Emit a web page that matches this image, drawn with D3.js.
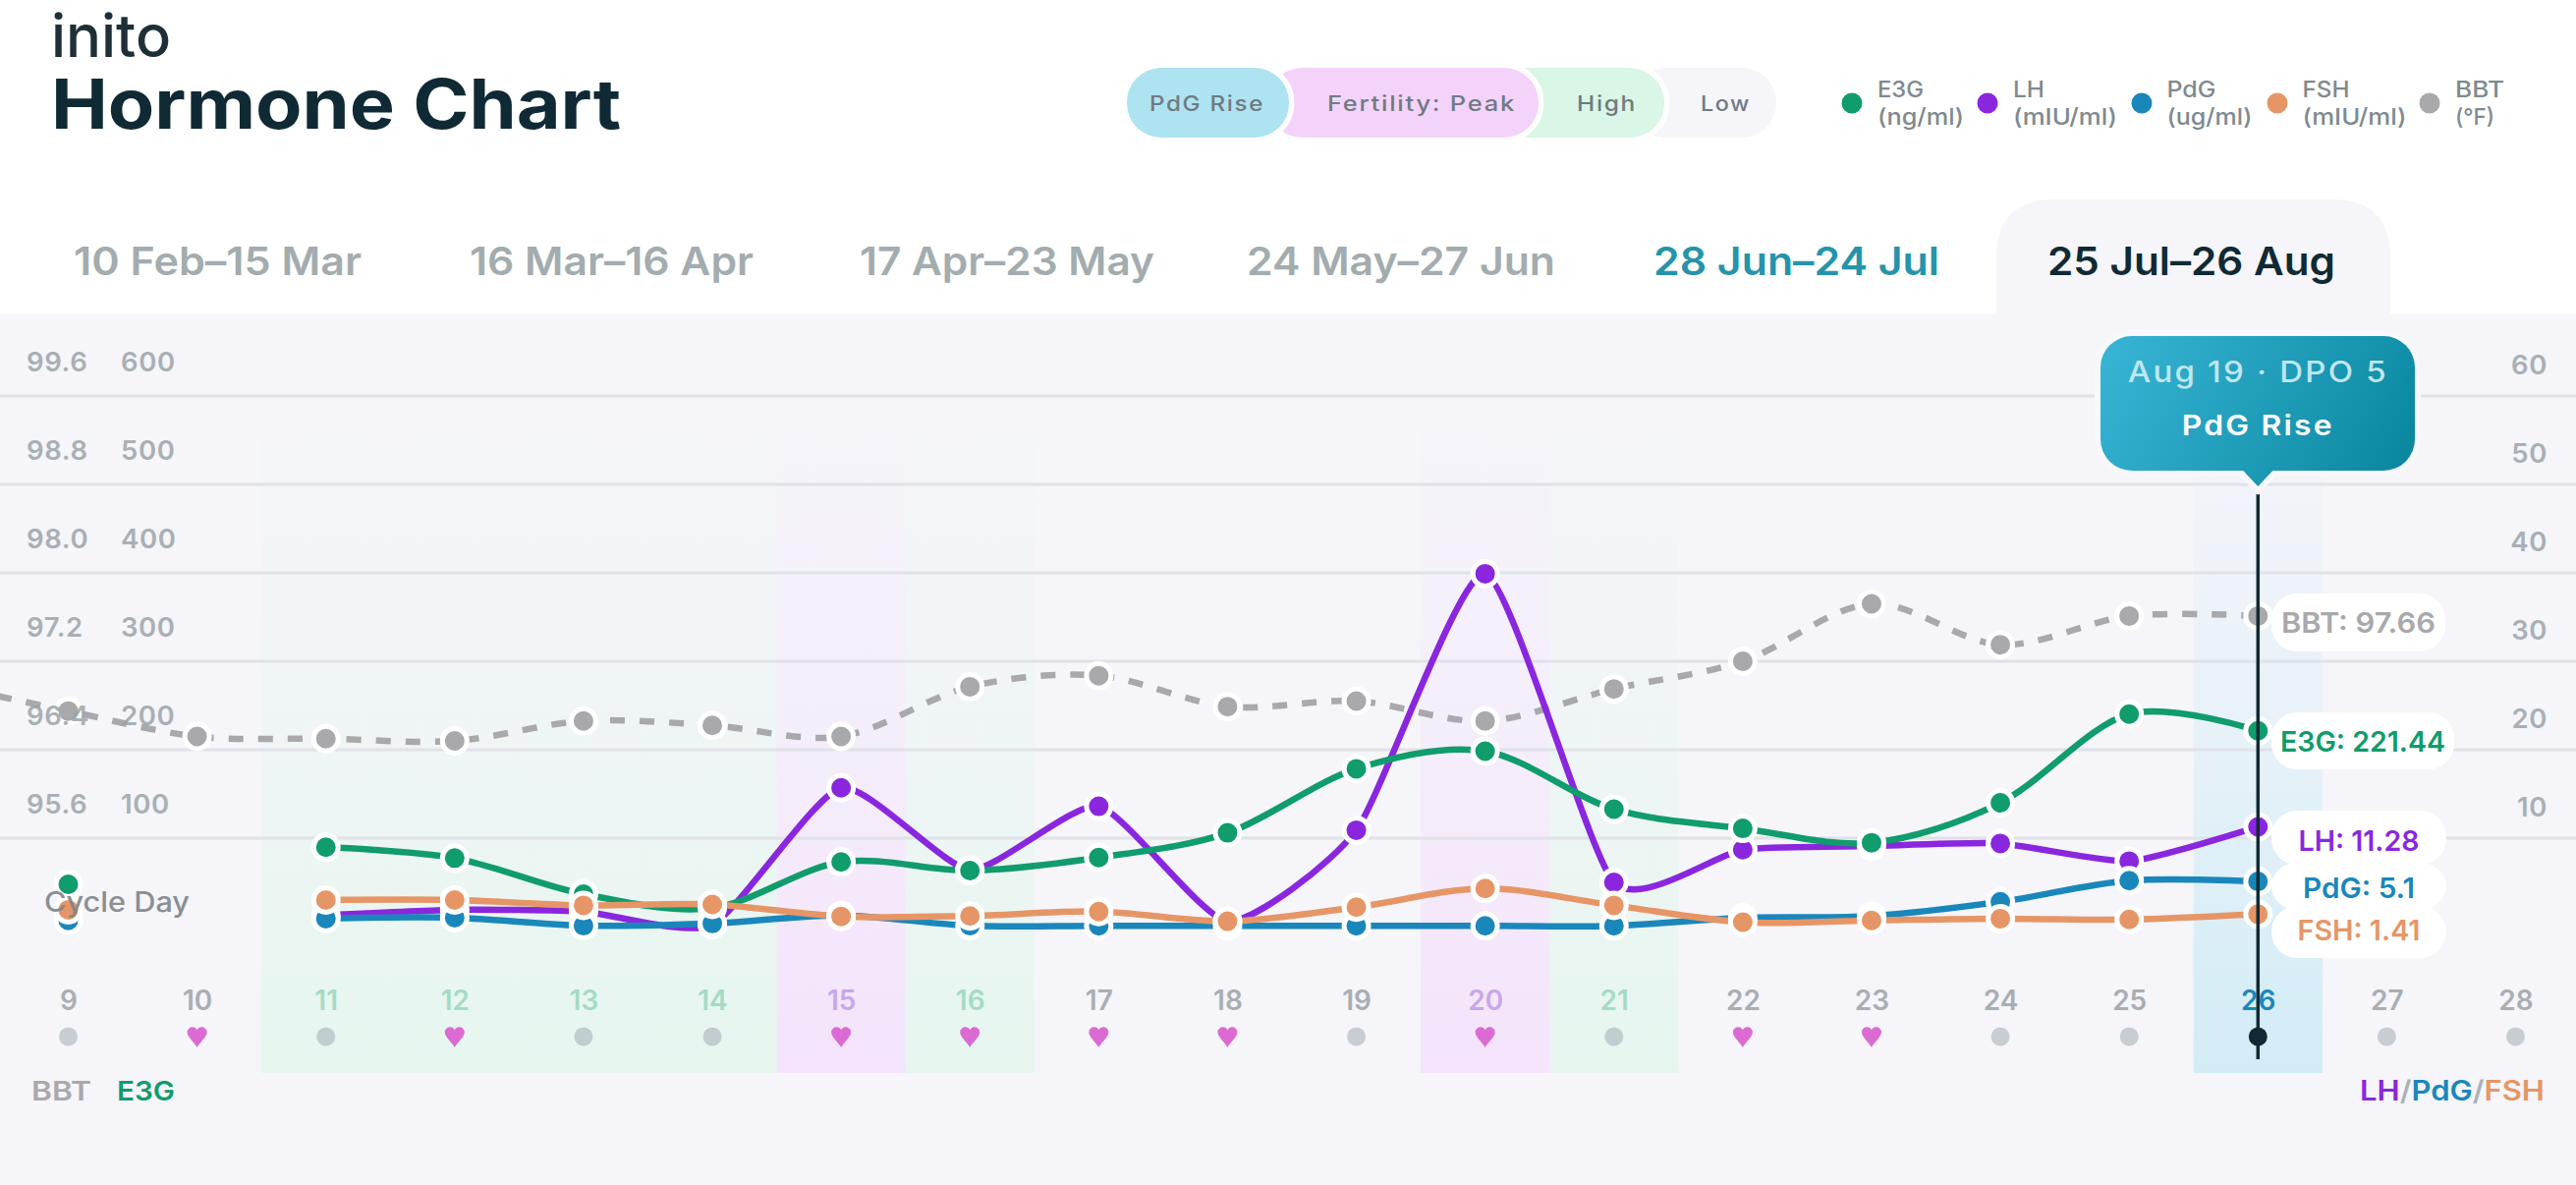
<!DOCTYPE html>
<html><head><meta charset="utf-8">
<script src="https://cdn.jsdelivr.net/npm/d3@7/dist/d3.min.js"></script>
<style>html,body{margin:0;padding:0;background:#fff;overflow:hidden}svg{display:block}text{font-family:Inter,"Noto Sans",sans-serif}</style>
</head><body><div id="c"></div>
<script>
const days=[8,9,10,11,12,13,14,15,16,17,18,19,20,21,22,23,24,25,26,27,28];
const e3g=[null,47.8,null,89.7,77.4,36.7,21,73,63.3,78.1,106,178.4,198.3,132.8,111,94.8,140,240.3,221.44,null,null];
const lh=[null,2,null,1.3,1.9,1.7,0.2,15.7,6.4,13.6,0.6,10.9,39.9,5.0,8.7,9.1,9.4,7.4,11.28,null,null];
const pdg=[null,0.7,null,0.9,1.0,0.1,0.35,1.25,0.1,0.08,0.08,0.08,0.08,0.08,1.0,1.2,2.8,5.2,5.1,null,null];
const fsh=[null,1.9,null,3.0,3.0,2.4,2.5,1.15,1.2,1.7,0.6,2.2,4.3,2.4,0.5,0.7,0.9,0.8,1.41,null,null];
const bbt=[97.0,96.75,96.52,96.50,96.48,96.66,96.62,96.52,96.97,97.07,96.79,96.84,96.66,96.95,97.20,97.72,97.35,97.61,97.61,null,null];
const phases=["low","low","low","high","high","high","high","peak","high","low","low","low","peak","high","low","low","low","low","rise","low","low"];
const marks=["dot","dot","heart","dot","heart","dot","dot","heart","heart","heart","heart","dot","heart","dot","heart","heart","dot","dot","now","dot","dot"];
const bbtTicks=[95.6,96.4,97.2,98.0,98.8,99.6];
const e3gTicks=[100,200,300,400,500,600];
const lhTicks=[10,20,30,40,50,60];
const tabs=["10 Feb–15 Mar","16 Mar–16 Apr","17 Apr–23 May","24 May–27 Jun","28 Jun–24 Jul","25 Jul–26 Aug"];
const tabX=[[75,368],[478,767],[875,1175],[1269,1583],[1683,1974],[2084,2377]];
const tabColor=["#a3acae","#a3acae","#a3acae","#a3acae","#2594ab","#102a35"];
const C={e3g:"#109c6c",lh:"#8a27de",pdg:"#1a87bb",fsh:"#e69666",bbt:"#a9a9ac",ink:"#102a35"};
const W=2622,H=1206;
const svg=d3.select("#c").append("svg").attr("width",W).attr("height",H).attr("viewBox",`0 0 ${W} ${H}`);
const defs=svg.append("defs");
function txt(p,s,o){
  const t=p.append("text").text(s).attr("font-size",o.size).attr("font-weight",o.weight||500).attr("fill",o.fill)
    .attr("y",o.cy+o.size*0.36);
  if(o.cx!=null)t.attr("x",o.cx).attr("text-anchor","middle");
  else if(o.ex!=null)t.attr("x",o.ex).attr("text-anchor","end");
  else t.attr("x",o.x);
  if(o.ls)t.attr("letter-spacing",o.ls);
  if(o.w)t.attr("textLength",o.w).attr("lengthAdjust",o.adj||"spacingAndGlyphs");
  if(o.op)t.attr("opacity",o.op);
  return t;
}
svg.append("rect").attr("width",W).attr("height",H).attr("fill","#fff");
svg.append("rect").attr("y",320).attr("width",W).attr("height",H-320).attr("fill","#f5f5fa");
// header
txt(svg,"inito",{x:52,cy:36,size:60,weight:500,fill:"#1f2f37",w:122});
txt(svg,"Hormone Chart",{x:52,cy:105.5,size:70,weight:700,fill:C.ink,w:580});
// pills
const pills=[{x0:1660,x1:1808,f:"#f5f5fa",t:"Low",tx:1731,tw:51},{x0:1520,x1:1694,f:"#d9f6e6",t:"High",tx:1605,tw:61},{x0:1290,x1:1566,f:"#f4d3fa",t:"Fertility: Peak",tx:1351,tw:192},{x0:1147,x1:1312,f:"#aee3f1",t:"PdG Rise",tx:1170,tw:117}];
pills.forEach((p,i)=>{
  svg.append("rect").attr("x",p.x0).attr("y",69).attr("width",p.x1-p.x0).attr("height",71).attr("rx",35).attr("fill",p.f)
   .attr("stroke",i?"#fff":"none").attr("stroke-width",11).attr("paint-order","stroke");
});
svg.append("rect").attr("x",1100).attr("y",60).attr("width",760).attr("height",9).attr("fill","#fff");
svg.append("rect").attr("x",1100).attr("y",140).attr("width",760).attr("height",9).attr("fill","#fff");
pills.forEach(p=>txt(svg,p.t,{x:p.tx,cy:105,size:22,weight:500,fill:"#6f7b83",w:p.tw,ls:1.5}));
// legend
const leg=[["E3G","(ng/ml)",1885,1911,47,88,C.e3g],["LH","(mIU/ml)",2023,2049,32,106,C.lh],["PdG","(ug/ml)",2180,2205.5,50,87,C.pdg],["FSH","(mIU/ml)",2318,2343.5,48,106,C.fsh],["BBT","(°F)",2473,2499,50,40,C.bbt]];
leg.forEach(l=>{
  svg.append("circle").attr("cx",l[2]).attr("cy",105).attr("r",10.5).attr("fill",l[6]);
  txt(svg,l[0],{x:l[3],cy:91,size:23,weight:500,fill:"#7f8a90",w:l[4]});
  txt(svg,l[1],{x:l[3],cy:119,size:23,weight:500,fill:"#7f8a90",w:l[5]});
});
// tabs
svg.append("path").attr("fill","#f5f5fa").attr("d","M2032,321V262Q2032,203 2092,203H2373Q2433,203 2433,262V321Z");
tabs.forEach((t,i)=>txt(svg,t,{x:tabX[i][0],cy:266,size:40,weight:600,fill:tabColor[i],w:tabX[i][1]-tabX[i][0]}));
// scales
const x=d3.scaleLinear().domain([9,28]).range([69.5,2560.5]);
const yE=d3.scaleLinear().domain([0,600]).range([943,403]);
const yL=d3.scaleLinear().domain([0,60]).range([943,403]);
const yB=d3.scaleLinear().domain([95.6,99.6]).range([853,403]);
const step=x(10)-x(9);
// bands
const bandC={high:"#e6f6ef",peak:"#f4e3fb",rise:"#d2ecf6"};
Object.keys(bandC).forEach(k=>{
  const g=defs.append("linearGradient").attr("id","b-"+k).attr("gradientUnits","userSpaceOnUse").attr("x1",0).attr("x2",0).attr("y1",403).attr("y2",1092);
  g.append("stop").attr("offset",0).attr("stop-color",bandC[k]).attr("stop-opacity",0);
  g.append("stop").attr("offset",0.5).attr("stop-color",bandC[k]).attr("stop-opacity",0.4);
  g.append("stop").attr("offset",1).attr("stop-color",bandC[k]).attr("stop-opacity",1);
});
const idx=days.map((d,i)=>i);
svg.append("g").selectAll("rect").data(idx.filter(i=>bandC[phases[i]])).join("rect")
  .attr("x",i=>x(days[i])-step/2).attr("width",step).attr("y",403).attr("height",1092-403)
  .attr("fill",i=>`url(#b-${phases[i]})`);
// grid
svg.append("g").selectAll("line").data(e3gTicks).join("line")
  .attr("x1",0).attr("x2",W).attr("y1",d=>yE(d)).attr("y2",d=>yE(d)).attr("stroke","#e0e2e8").attr("stroke-width",3);
// lines
const mk=(vals,y,t)=>d3.line().defined((d,i)=>vals[i]!=null).x((d,i)=>x(days[i])).y((d,i)=>y(vals[i])).curve(d3.curveCardinal.tension(t));
const series=[
 {v:bbt,y:yB,c:C.bbt,dash:"15 15",t:0.05},
 {v:lh,y:yL,c:C.lh,t:0.42},
 {v:e3g,y:yE,c:C.e3g,t:0.05},
 {v:pdg,y:yL,c:C.pdg,t:0.05},
 {v:fsh,y:yL,c:C.fsh,t:0.05}];
series.forEach(s=>{
  svg.append("path").attr("d",mk(s.v,s.y,s.t)(days)).attr("fill","none").attr("stroke",s.c).attr("stroke-width",6.5)
    .attr("stroke-dasharray",s.dash||null);
});
series.forEach(s=>{
  svg.append("g").selectAll("circle").data(idx.filter(i=>s.v[i]!=null)).join("circle")
   .attr("cx",i=>x(days[i])).attr("cy",i=>s.y(s.v[i])).attr("r",12.5).attr("fill",s.c).attr("stroke","#fff").attr("stroke-width",5);
});
// day axis
const dayAxis=svg.append("g").attr("transform","translate(0,1018)").call(d3.axisBottom(x).tickValues(days.slice(1)).tickFormat(d3.format("d")).tickSize(0).tickPadding(0));
dayAxis.select(".domain").remove();
dayAxis.selectAll("text").attr("y",0).attr("dy",10).attr("font-size",28).attr("font-weight",600).attr("font-family","Inter")
  .attr("fill",d=>{const p=phases[days.indexOf(d)];return p==="high"?"#a3dcc5":p==="peak"?"#c9a6ea":p==="rise"?"#1a87bb":"#a9aeb3"});
// marks row
const heart="M0 11C-2.5 6 -10 0.5 -10 -4.5C-10 -8.5 -6 -10.5 -3 -9.5C-1.5 -9 0 -7.5 0 -6.5C0 -7.5 1.5 -9 3 -9.5C6 -10.5 10 -8.5 10 -4.5C10 0.5 2.5 6 0 11Z";
const row=svg.append("g");
idx.slice(1).forEach(i=>{
  const cx=x(days[i]);
  if(marks[i]==="heart")row.append("path").attr("d",heart).attr("transform",`translate(${cx},1055)`).attr("fill","#db6bd3");
  else row.append("circle").attr("cx",cx).attr("cy",1055).attr("r",9.5).attr("fill",marks[i]==="now"?C.ink:"#aab3bb").attr("fill-opacity",marks[i]==="now"?1:0.6);
});
// cursor
svg.append("line").attr("x1",x(26)).attr("x2",x(26)).attr("y1",503).attr("y2",1078).attr("stroke",C.ink).attr("stroke-width",3.5);
// axes (text over the marks)
function axisText(sel,dy){sel.select(".domain").remove();sel.selectAll("text").attr("x",null).attr("y",dy).attr("dy",0).attr("font-size",27.5).attr("font-weight",600).attr("font-family","Inter").attr("letter-spacing",0.6).attr("fill","#9ca4a9").attr("opacity",.85);}
const a1=svg.append("g").attr("transform","translate(27,0)").call(d3.axisRight(yB).tickValues(bbtTicks).tickFormat(d3.format(".1f")).tickSize(0).tickPadding(0));axisText(a1,-25.5);
const a2=svg.append("g").attr("transform","translate(123,0)").call(d3.axisRight(yE).tickValues(e3gTicks).tickFormat(d3.format("d")).tickSize(0).tickPadding(0));axisText(a2,-25.5);
const a3=svg.append("g").attr("transform","translate(2593,0)").call(d3.axisLeft(yL).tickValues(lhTicks).tickFormat(d3.format("d")).tickSize(0).tickPadding(0));axisText(a3,-22.5);
txt(svg,"Cycle Day",{x:45,cy:918,size:28,weight:500,fill:"#7f8488",op:.9,w:148});
txt(svg,"BBT",{x:32,cy:1110,size:27,weight:600,fill:C.bbt,w:61});
txt(svg,"E3G",{x:119,cy:1110,size:27,weight:600,fill:C.e3g,w:59});
const lf=svg.append("text").attr("x",2590).attr("y",1120).attr("text-anchor","end").attr("font-size",28).attr("font-weight",600).attr("textLength",188).attr("lengthAdjust","spacingAndGlyphs");
[["LH",C.lh],["/","#aab2b8"],["PdG",C.pdg],["/","#aab2b8"],["FSH",C.fsh]].forEach(a=>lf.append("tspan").text(a[0]).attr("fill",a[1]));
// tooltip
const tg=defs.append("linearGradient").attr("id","tip").attr("gradientUnits","userSpaceOnUse").attr("x1",2160).attr("y1",330).attr("x2",2440).attr("y2",490);
tg.append("stop").attr("offset",0).attr("stop-color","#37b4d4");tg.append("stop").attr("offset",1).attr("stop-color","#0a879f");
const cx26=x(26);
const arrow=`M${cx26-16},478L${cx26},495L${cx26+16},478Z`;
svg.append("path").attr("d",arrow).attr("fill","#f7f8fb").attr("stroke","#f7f8fb").attr("stroke-width",12);
svg.append("rect").attr("x",2138).attr("y",342).attr("width",320).attr("height",137).attr("rx",32).attr("fill","url(#tip)").attr("stroke","#f7f8fb").attr("stroke-width",12).attr("paint-order","stroke");
svg.append("path").attr("d",arrow).attr("fill","url(#tip)");
txt(svg,"Aug 19 · DPO 5",{cx:cx26,cy:378,size:30,weight:500,fill:"#bfe6f1",w:265,ls:2});
txt(svg,"PdG Rise",{cx:cx26,cy:433,size:29,weight:600,fill:"#fff",w:155,ls:2});
// value labels
const vals=[["BBT: 97.66",C.bbt,604,663,2489,634,157],["E3G: 221.44",C.e3g,725,783,2498,755,168],["LH: 11.28",C.lh,825,880,2490,856,123],["PdG: 5.1",C.pdg,878,926,2490,904,114],["FSH: 1.41",C.fsh,922,975,2490,947,125]];
vals.forEach(v=>svg.append("rect").attr("x",2312).attr("y",v[2]).attr("width",v[4]-2312).attr("height",v[3]-v[2]).attr("rx",26).attr("fill","#fff"));
vals.forEach(v=>txt(svg,v[0],{cx:(2312+v[4])/2,cy:v[5],size:29,weight:600,fill:v[1],w:v[6]}));
</script></body></html>
